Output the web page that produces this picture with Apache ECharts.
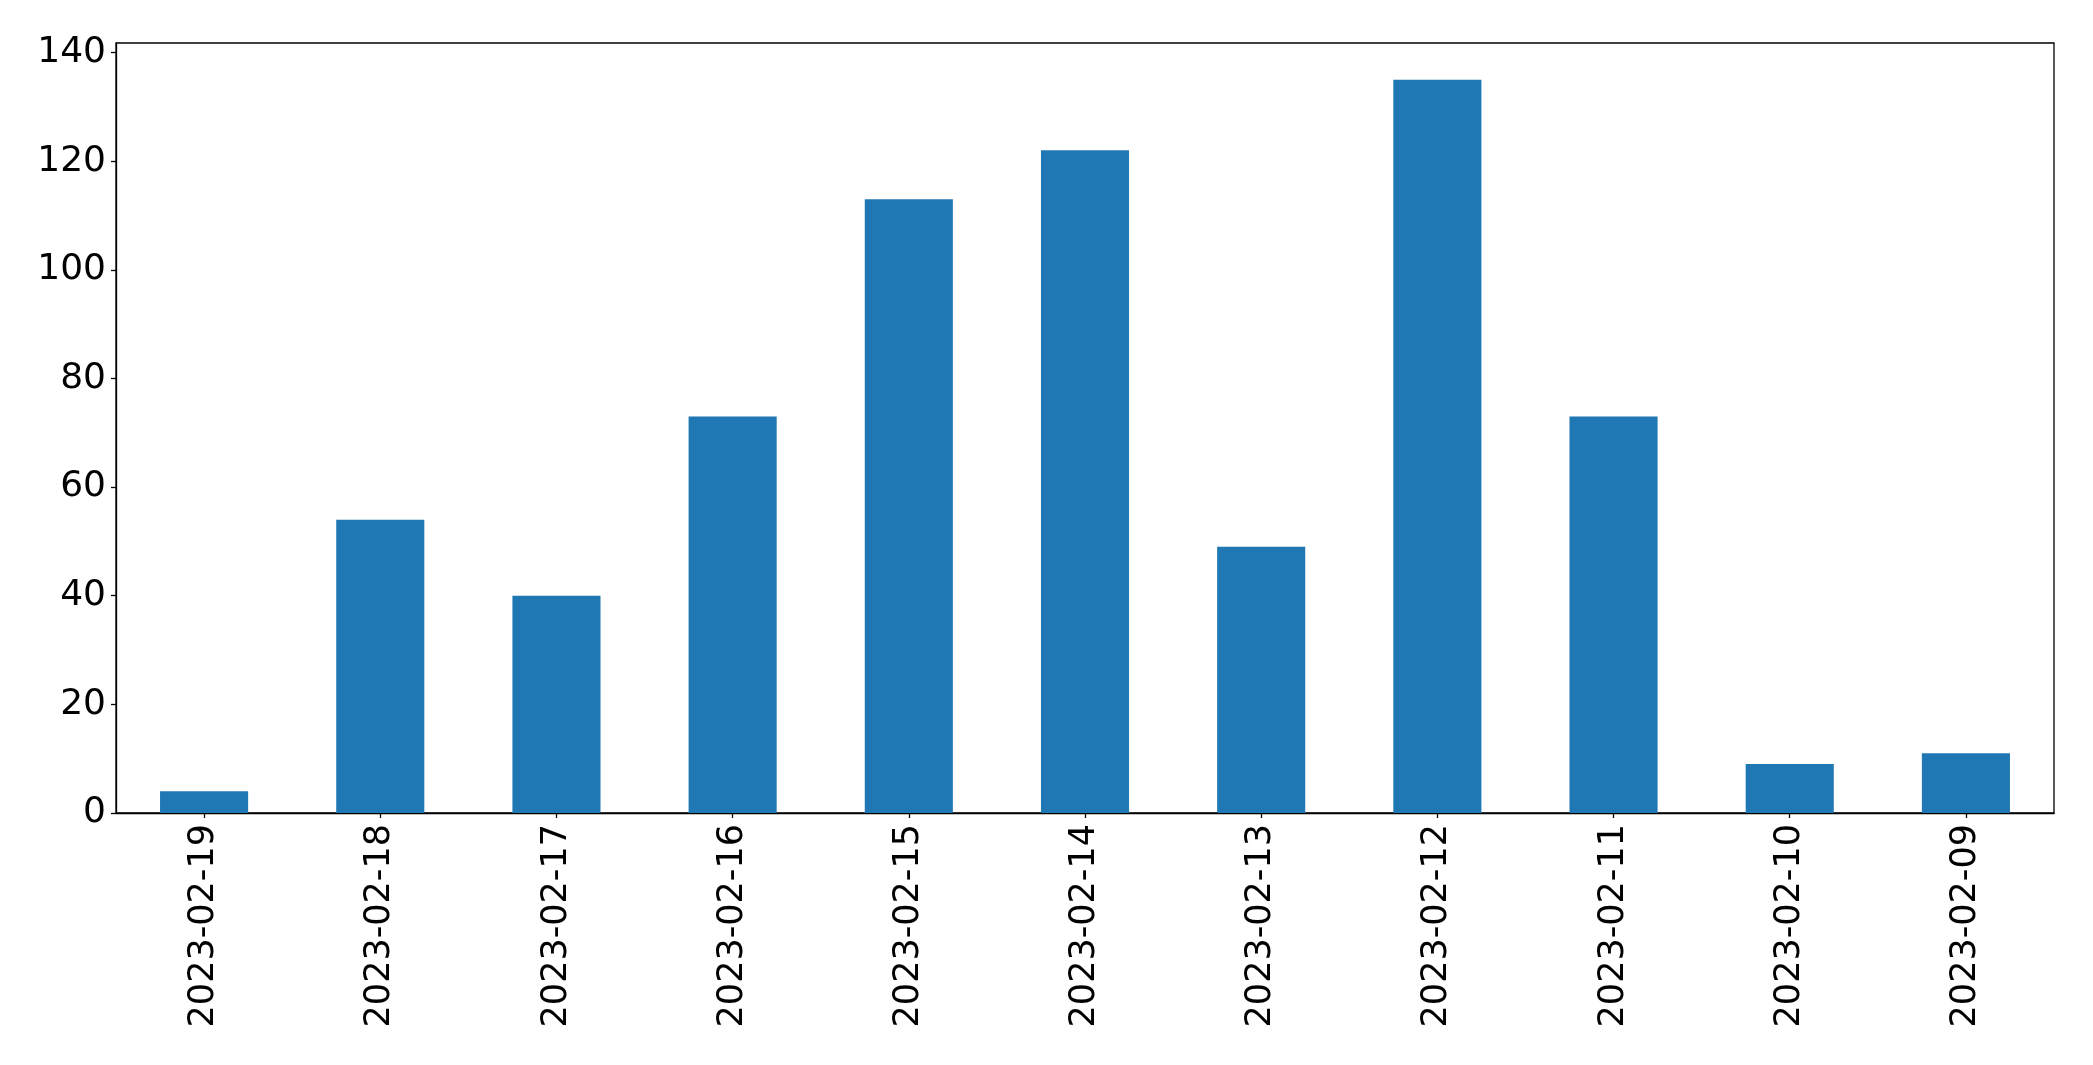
<!DOCTYPE html>
<html>
<head>
<meta charset="utf-8">
<script src="https://cdn.jsdelivr.net/npm/echarts@6/dist/echarts.min.js"></script>
<style>
html,body{margin:0;padding:0;background:#fff;}
#chart{width:2093px;height:1065px;}
</style>
</head>
<body>
<div id="chart"></div>
<script>
const categories = ['2023-02-19','2023-02-18','2023-02-17','2023-02-16','2023-02-15','2023-02-14','2023-02-13','2023-02-12','2023-02-11','2023-02-10','2023-02-09'];
const values = [4, 54, 40, 73, 113, 122, 49, 135, 73, 9, 11];
const yTicks = [0, 20, 40, 60, 80, 100, 120, 140];

const chart = echarts.init(document.getElementById('chart'), null, {renderer: 'canvas'});
const font = 'DejaVu Sans';
chart.setOption({
  animation: false,
  backgroundColor: '#ffffff',
  grid: {left: 116, top: 43, right: 39, bottom: 252, show: true, borderColor: '#000', borderWidth: 1.3, backgroundColor: 'transparent'},
  xAxis: {
    type: 'category',
    data: categories,
    boundaryGap: true,
    axisLine: {show: true, lineStyle: {color: '#000', width: 1.3}},
    axisTick: {show: true, alignWithLabel: true, length: 5, lineStyle: {color: '#000', width: 1.3}},
    axisLabel: {rotate: 90, margin: 11, color: '#000', fontSize: 35, fontFamily: font, interval: 0},
    splitLine: {show: false}
  },
  yAxis: {
    type: 'value',
    min: 0,
    max: 141.75,
    interval: 20,
    axisLine: {show: true, lineStyle: {color: '#000', width: 1.3}},
    axisTick: {show: true, length: 5, lineStyle: {color: '#000', width: 1.3}, customValues: yTicks},
    axisLabel: {margin: 10, color: '#000', fontSize: 36, fontFamily: font, customValues: yTicks, showMaxLabel: true},
    splitLine: {show: false}
  },
  series: [{
    type: 'bar',
    data: values,
    barWidth: '50%',
    itemStyle: {color: '#1f77b4'}
  }]
});
</script>
</body>
</html>
